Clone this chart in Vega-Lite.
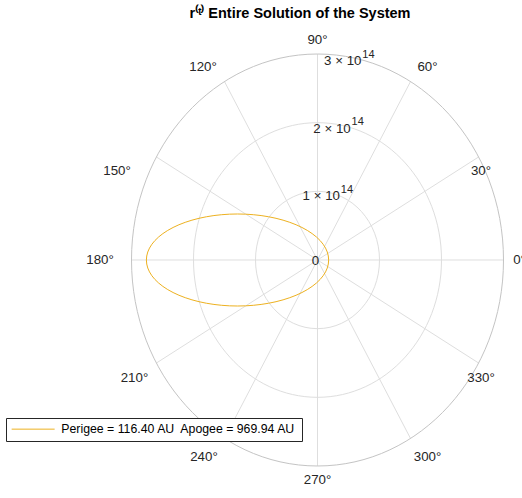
{
  "$schema": "https://vega.github.io/schema/vega-lite/v6.json",
  "width": 522,
  "height": 473,
  "autosize": {"type": "none"},
  "padding": {"top": 25, "left": 0, "right": 0, "bottom": 0},
  "background": "white",
  "title": {"text": "r⁽ᵗ⁾ Entire Solution of the System", "frame": "group", "font": "Liberation Sans", "fontSize": 14.5, "fontWeight": "bold", "color": "#000000", "anchor": "middle", "offset": 4, "dx": 39},
  "config": {
    "view": {"stroke": null},
    "legend": {"orient": "none", "legendX": 6, "legendY": 393, "title": null, "symbolType": "M-4,0L4,0", "symbolSize": 115.6, "symbolOffset": 16, "symbolStrokeWidth": 1, "labelFontSize": 12.3, "labelFont": "Liberation Sans", "labelColor": "#000000", "labelLimit": 400, "labelOffset": 22, "strokeColor": "#262626", "fillColor": "#ffffff", "padding": 5}
  },
  "datasets": {
    "rings": [{"r": 1e14}, {"r": 2e14}],
    "outer": [{"r": 3e14}],
    "spokes": [
      {"angle": 0, "ex": 3e14, "ey": 0},
      {"angle": 30, "ex": 2.598e14, "ey": 1.5e14},
      {"angle": 60, "ex": 1.5e14, "ey": 2.598e14},
      {"angle": 90, "ex": 0, "ey": 3e14},
      {"angle": 120, "ex": -1.5e14, "ey": 2.598e14},
      {"angle": 150, "ex": -2.598e14, "ey": 1.5e14},
      {"angle": 180, "ex": -3e14, "ey": 0},
      {"angle": 210, "ex": -2.598e14, "ey": -1.5e14},
      {"angle": 240, "ex": -1.5e14, "ey": -2.598e14},
      {"angle": 270, "ex": 0, "ey": -3e14},
      {"angle": 300, "ex": 1.5e14, "ey": -2.598e14},
      {"angle": 330, "ex": 2.598e14, "ey": -1.5e14}
    ],
    "rzero": [{"label": "0", "x": 0, "y": 0}],
    "rticks": [
      {"base": "1 × 10", "exp": "14", "x": 1.736e13, "y": 9.848e13},
      {"base": "2 × 10", "exp": "14", "x": 3.473e13, "y": 1.9696e14},
      {"base": "3 × 10", "exp": "14", "x": 5.209e13, "y": 2.9544e14}
    ],
    "thetaLabels": [
      {"label": "0°", "x": 3.258e14, "y": 0},
      {"label": "30°", "x": 2.637e14, "y": 1.296e14},
      {"label": "60°", "x": 1.774e14, "y": 2.811e14},
      {"label": "90°", "x": 0, "y": 3.204e14},
      {"label": "120°", "x": -1.847e14, "y": 2.811e14},
      {"label": "150°", "x": -3.234e14, "y": 1.296e14},
      {"label": "180°", "x": -3.508e14, "y": 0},
      {"label": "210°", "x": -2.952e14, "y": -1.718e14},
      {"label": "240°", "x": -1.831e14, "y": -2.869e14},
      {"label": "270°", "x": 0, "y": -3.204e14},
      {"label": "300°", "x": 1.774e14, "y": -2.869e14},
      {"label": "330°", "x": 2.637e14, "y": -1.718e14}
    ],
    "orbit": [
      {"x": 1.8e13, "y": 0},
      {"x": 1.577e13, "y": 1.163e13},
      {"x": 9.14e12, "y": 2.291e13},
      {"x": -1.7e12, "y": 3.35e13},
      {"x": -1.64e13, "y": 4.307e13},
      {"x": -3.451e13, "y": 5.132e13},
      {"x": -5.55e13, "y": 5.802e13},
      {"x": -7.873e13, "y": 6.296e13},
      {"x": -1.0348e14, "y": 6.598e13},
      {"x": -1.29e14, "y": 6.7e13},
      {"x": -1.5452e14, "y": 6.598e13},
      {"x": -1.7927e14, "y": 6.296e13},
      {"x": -2.025e14, "y": 5.802e13},
      {"x": -2.2349e14, "y": 5.132e13},
      {"x": -2.416e14, "y": 4.307e13},
      {"x": -2.563e14, "y": 3.35e13},
      {"x": -2.6714e14, "y": 2.291e13},
      {"x": -2.7377e14, "y": 1.163e13},
      {"x": -2.76e14, "y": 0},
      {"x": -2.7377e14, "y": -1.163e13},
      {"x": -2.6714e14, "y": -2.291e13},
      {"x": -2.563e14, "y": -3.35e13},
      {"x": -2.416e14, "y": -4.307e13},
      {"x": -2.2349e14, "y": -5.132e13},
      {"x": -2.025e14, "y": -5.802e13},
      {"x": -1.7927e14, "y": -6.296e13},
      {"x": -1.5452e14, "y": -6.598e13},
      {"x": -1.29e14, "y": -6.7e13},
      {"x": -1.0348e14, "y": -6.598e13},
      {"x": -7.873e13, "y": -6.296e13},
      {"x": -5.55e13, "y": -5.802e13},
      {"x": -3.451e13, "y": -5.132e13},
      {"x": -1.64e13, "y": -4.307e13},
      {"x": -1.7e12, "y": -3.35e13},
      {"x": 9.14e12, "y": -2.291e13},
      {"x": 1.577e13, "y": -1.163e13}
    ]
  },
  "layer": [
    {
      "data": {"name": "rings"},
      "mark": {"type": "point", "shape": "M1,0C1,0.6117,0.5523,1.1075,0,1.1075C-0.5523,1.1075,-1,0.6117,-1,0C-1,-0.6117,-0.5523,-1.1075,0,-1.1075C0.5523,-1.1075,1,-0.6117,1,0Z", "filled": false, "stroke": "#dedede", "strokeWidth": 1, "opacity": 1},
      "encoding": {
        "x": {"datum": 0, "type": "quantitative", "scale": {"domain": [-5.121e14, 3.2984e14], "nice": false, "zero": false}, "axis": null},
        "y": {"datum": 0, "type": "quantitative", "scale": {"domain": [-3.466e14, 3.4223e14], "nice": false, "zero": false}, "axis": null},
        "size": {"field": "r", "type": "quantitative", "scale": {"type": "pow", "exponent": 2, "domain": [0, 3e14], "range": [0, 138384]}, "legend": null}
      }
    },
    {
      "data": {"name": "spokes"},
      "mark": {"type": "rule", "stroke": "#dedede", "strokeWidth": 1},
      "encoding": {
        "x": {"field": "ex", "type": "quantitative", "scale": {"domain": [-5.121e14, 3.2984e14], "nice": false, "zero": false}, "axis": null},
        "y": {"field": "ey", "type": "quantitative", "scale": {"domain": [-3.466e14, 3.4223e14], "nice": false, "zero": false}, "axis": null},
        "x2": {"datum": 0},
        "y2": {"datum": 0}
      }
    },
    {
      "data": {"name": "outer"},
      "mark": {"type": "point", "shape": "M1,0C1,0.6117,0.5523,1.1075,0,1.1075C-0.5523,1.1075,-1,0.6117,-1,0C-1,-0.6117,-0.5523,-1.1075,0,-1.1075C0.5523,-1.1075,1,-0.6117,1,0Z", "filled": false, "stroke": "#c4c4c4", "strokeWidth": 1, "opacity": 1},
      "encoding": {
        "x": {"datum": 0, "type": "quantitative", "scale": {"domain": [-5.121e14, 3.2984e14], "nice": false, "zero": false}, "axis": null},
        "y": {"datum": 0, "type": "quantitative", "scale": {"domain": [-3.466e14, 3.4223e14], "nice": false, "zero": false}, "axis": null},
        "size": {"field": "r", "type": "quantitative", "scale": {"type": "pow", "exponent": 2, "domain": [0, 3e14], "range": [0, 138384]}, "legend": null}
      }
    },
    {
      "data": {"name": "orbit"},
      "mark": {"type": "line", "interpolate": "cardinal-closed", "strokeWidth": 1},
      "encoding": {
        "x": {"field": "x", "type": "quantitative", "scale": {"domain": [-5.121e14, 3.2984e14], "nice": false, "zero": false}, "axis": null},
        "y": {"field": "y", "type": "quantitative", "scale": {"domain": [-3.466e14, 3.4223e14], "nice": false, "zero": false}, "axis": null},
        "order": {"value": null},
        "color": {"datum": "Perigee = 116.40 AU\u00a0 Apogee = 969.94 AU", "type": "nominal", "scale": {"range": ["#EDB120"]}}
      }
    },
    {
      "data": {"name": "rzero"},
      "mark": {"type": "text", "font": "Liberation Sans", "fontSize": 13.3, "color": "#262626", "align": "center", "baseline": "middle", "dx": -2, "dy": 1},
      "encoding": {
        "x": {"field": "x", "type": "quantitative", "scale": {"domain": [-5.121e14, 3.2984e14], "nice": false, "zero": false}, "axis": null},
        "y": {"field": "y", "type": "quantitative", "scale": {"domain": [-3.466e14, 3.4223e14], "nice": false, "zero": false}, "axis": null},
        "text": {"field": "label"}
      }
    },
    {
      "data": {"name": "rticks"},
      "mark": {"type": "text", "font": "Liberation Sans", "fontSize": 13.3, "color": "#262626", "align": "center", "baseline": "middle", "dx": -7, "dy": 4},
      "encoding": {
        "x": {"field": "x", "type": "quantitative", "scale": {"domain": [-5.121e14, 3.2984e14], "nice": false, "zero": false}, "axis": null},
        "y": {"field": "y", "type": "quantitative", "scale": {"domain": [-3.466e14, 3.4223e14], "nice": false, "zero": false}, "axis": null},
        "text": {"field": "base"}
      }
    },
    {
      "data": {"name": "rticks"},
      "mark": {"type": "text", "font": "Liberation Sans", "fontSize": 11, "color": "#262626", "align": "left", "baseline": "middle", "dx": 12.5, "dy": -2.5},
      "encoding": {
        "x": {"field": "x", "type": "quantitative", "scale": {"domain": [-5.121e14, 3.2984e14], "nice": false, "zero": false}, "axis": null},
        "y": {"field": "y", "type": "quantitative", "scale": {"domain": [-3.466e14, 3.4223e14], "nice": false, "zero": false}, "axis": null},
        "text": {"field": "exp"}
      }
    },
    {
      "data": {"name": "thetaLabels"},
      "mark": {"type": "text", "font": "Liberation Sans", "fontSize": 13.3, "color": "#262626", "align": "center", "baseline": "middle"},
      "encoding": {
        "x": {"field": "x", "type": "quantitative", "scale": {"domain": [-5.121e14, 3.2984e14], "nice": false, "zero": false}, "axis": null},
        "y": {"field": "y", "type": "quantitative", "scale": {"domain": [-3.466e14, 3.4223e14], "nice": false, "zero": false}, "axis": null},
        "text": {"field": "label"}
      }
    }
  ]
}
